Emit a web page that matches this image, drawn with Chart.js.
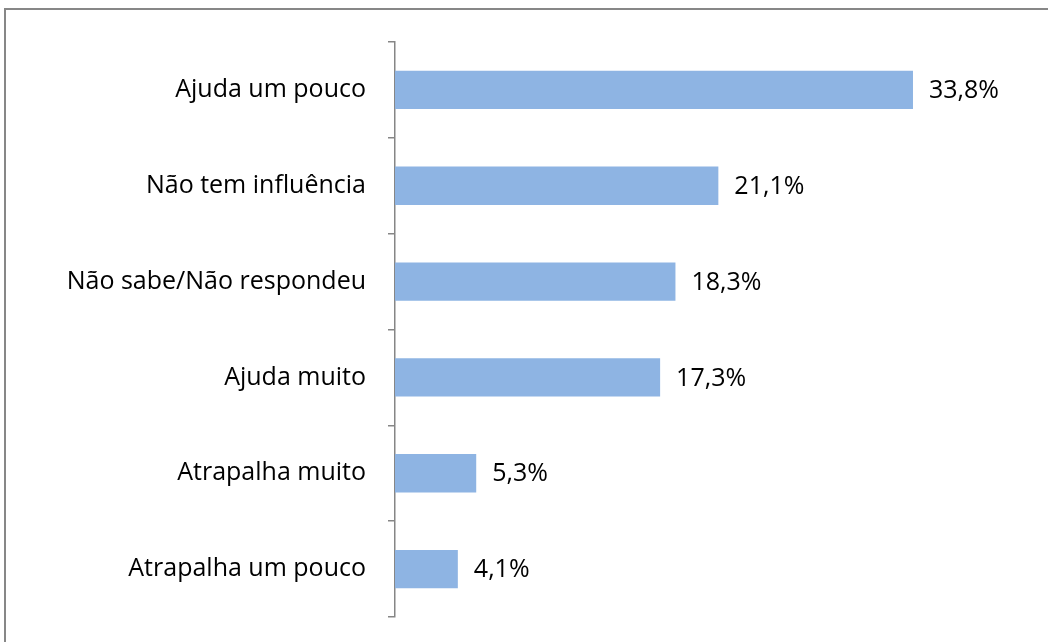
<!DOCTYPE html>
<html>
<head>
<meta charset="utf-8">
<script src="https://cdn.jsdelivr.net/npm/chart.js@4"></script>
<style>
  html, body { margin: 0; padding: 0; background: #fff; }
  #wrap { width: 1048px; height: 642px; }
</style>
</head>
<body>
<div id="wrap"><canvas id="myChart" width="1048" height="642"></canvas></div>
<script>
var categories = ["Ajuda um pouco", "Não tem influência", "Não sabe/Não respondeu", "Ajuda muito", "Atrapalha muito", "Atrapalha um pouco"];
var values = [33.8, 21.1, 18.3, 17.3, 5.3, 4.1];

var fontFamily = "'Open Sans', 'Noto Sans', sans-serif";

// outer frame, runs off the right and bottom edge like the source
var framePlugin = {
  id: 'frame',
  beforeDraw: function(chart) {
    var ctx = chart.ctx;
    ctx.save();
    ctx.strokeStyle = '#878787';
    ctx.lineWidth = 2;
    ctx.strokeRect(5, 9, 1100, 700);
    ctx.restore();
  }
};

// value labels to the right of each bar
var valueLabels = {
  id: 'valueLabels',
  afterDatasetsDraw: function(chart) {
    var ctx = chart.ctx;
    var meta = chart.getDatasetMeta(0);
    ctx.save();
    ctx.fillStyle = '#000';
    ctx.font = '25px ' + fontFamily;
    ctx.textBaseline = 'middle';
    ctx.textAlign = 'left';
    meta.data.forEach(function(bar, i) {
      var txt = values[i].toFixed(1).replace('.', ',') + '%';
      ctx.fillText(txt, bar.x + 16, bar.y + 1);
    });
    ctx.restore();
  }
};

new Chart("myChart", {
  type: "bar",
  data: {
    labels: categories,
    datasets: [{
      data: values,
      backgroundColor: "#8EB4E3",
      barPercentage: 0.4,
      categoryPercentage: 1.0
    }]
  },
  options: {
    indexAxis: 'y',
    responsive: false,
    animation: false,
    events: [],
    layout: { padding: { top: 42, bottom: 25, right: 40, left: 0 } },
    plugins: {
      legend: { display: false },
      tooltip: { enabled: false }
    },
    scales: {
      x: { display: false, min: 0, max: 40 },
      y: {
        afterFit: function(scale) {
          scale.width = 395;
          scale.paddingTop = 0;
          scale.paddingBottom = 0;
        },
        border: { display: true, color: '#868686', width: 1.5 },
        grid: { drawOnChartArea: false, drawTicks: true, tickLength: 7, color: '#868686', lineWidth: 1.5, offset: true },
        ticks: { color: '#000', padding: 22, font: { family: fontFamily, size: 25 } }
      }
    }
  },
  plugins: [framePlugin, valueLabels]
});
</script>
</body>
</html>
